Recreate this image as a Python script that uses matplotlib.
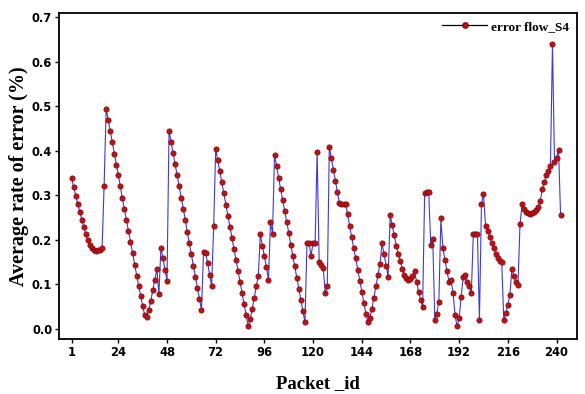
import matplotlib
matplotlib.use("Agg")
import matplotlib.pyplot as plt

error_rate = [
    0.339, 0.318, 0.299, 0.280, 0.263, 0.245, 0.228, 0.212, 0.199, 0.188, 0.181, 0.177, 0.175, 0.176, 0.178, 0.182,
    0.322, 0.495,
    0.470, 0.445, 0.420, 0.394, 0.369, 0.345, 0.320, 0.293, 0.269, 0.244, 0.220, 0.195, 0.170, 0.144, 0.119, 0.096, 0.073, 0.051, 0.030,
    0.027, 0.042, 0.063, 0.087, 0.110, 0.134, 0.077, 0.182, 0.158, 0.133, 0.108, 0.445,
    0.420, 0.395, 0.371, 0.346, 0.320, 0.295, 0.269, 0.245, 0.217, 0.192, 0.167, 0.142, 0.117, 0.092, 0.066, 0.042,
    0.172, 0.170, 0.148, 0.121, 0.096, 0.230, 0.404, 0.379, 0.354, 0.330,
    0.305, 0.279, 0.254, 0.229, 0.204, 0.180, 0.155, 0.129, 0.104, 0.080, 0.055, 0.030, 0.006, 0.021, 0.044, 0.070, 0.095, 0.119,
    0.212, 0.187, 0.163, 0.138, 0.110, 0.239, 0.214, 0.390,
    0.366, 0.339, 0.314, 0.290, 0.265, 0.240, 0.216, 0.189, 0.164, 0.140, 0.114, 0.089, 0.064, 0.039, 0.014,
    0.193, 0.193, 0.164, 0.193, 0.193, 0.398, 0.149, 0.144, 0.136, 0.080, 0.095, 0.409,
    0.383, 0.358, 0.333, 0.307, 0.282, 0.280, 0.280, 0.280, 0.258, 0.231, 0.207, 0.182, 0.158, 0.133, 0.108, 0.083, 0.058, 0.034, 0.015,
    0.025, 0.045, 0.070, 0.096, 0.121, 0.146, 0.192, 0.167, 0.142, 0.117, 0.255,
    0.233, 0.210, 0.187, 0.168, 0.152, 0.134, 0.121, 0.114, 0.110, 0.111, 0.119, 0.129, 0.106, 0.083, 0.064, 0.049,
    0.306, 0.308, 0.307, 0.189, 0.201, 0.019, 0.034, 0.061, 0.248,
    0.181, 0.155, 0.129, 0.106, 0.110, 0.080, 0.030, 0.005,
    0.023, 0.072, 0.117, 0.121, 0.106, 0.095, 0.080,
    0.213, 0.214, 0.213, 0.019, 0.280, 0.303,
    0.232, 0.220, 0.206, 0.193, 0.181, 0.169, 0.159, 0.152, 0.149, 0.019,
    0.035, 0.054, 0.076, 0.134, 0.119, 0.104, 0.098, 0.235, 0.280,
    0.270, 0.263, 0.260, 0.259, 0.260, 0.262, 0.266, 0.273, 0.288, 0.314,
    0.330, 0.345, 0.355, 0.365, 0.640, 0.375, 0.385, 0.403, 0.255,
]
packet_id = list(range(1, len(error_rate) + 1))
x_ticks = [1, 24, 48, 72, 96, 120, 144, 168, 192, 216, 240]
y_ticks = [0.0, 0.1, 0.2, 0.3, 0.4, 0.5, 0.6, 0.7]

fig = plt.figure(figsize=(5.85, 3.94), dpi=100)
ax = fig.add_axes([0.101, 0.14, 0.885, 0.828])

ax.plot(packet_id, error_rate, color="#3b3bd6", linewidth=0.8, zorder=2)
ax.plot(packet_id, error_rate, linestyle="none", marker="o", markersize=3.8,
        markerfacecolor="#bb1218", markeredgecolor="#850808", markeredgewidth=0.5, zorder=3)

ax.plot([], [], color="black", linewidth=0.9, marker="o", markersize=3.8,
        markerfacecolor="#bb1218", markeredgecolor="#850808", label="error flow_S4")
ax.legend(loc="upper right", frameon=False, handlelength=3.4, borderaxespad=0.2,
          handletextpad=0.3, prop={"family": "Liberation Serif", "weight": "bold", "size": 9.5})

ax.set_xlim(-5.2, 250)
ax.set_ylim(-0.023, 0.711)
ax.set_xticks(x_ticks)
ax.set_yticks(y_ticks)
ax.set_yticklabels([f"{v:.1f}" for v in y_ticks])
for lab in ax.get_xticklabels() + ax.get_yticklabels():
    lab.set_fontfamily("DejaVu Sans")
    lab.set_fontweight("bold")
    lab.set_fontsize(8.3)
ax.tick_params(direction="out", length=3, width=1, top=False, right=False, pad=2)
for s in ax.spines.values():
    s.set_linewidth(1.3)

ax.set_xlabel("Packet _id", fontfamily="Liberation Serif", fontweight="bold", fontsize=13.5, labelpad=12)
ax.set_ylabel("Average rate of error (%)", fontfamily="Liberation Serif", fontweight="bold", fontsize=14.5, labelpad=2)

fig.savefig("out.png", dpi=100)
